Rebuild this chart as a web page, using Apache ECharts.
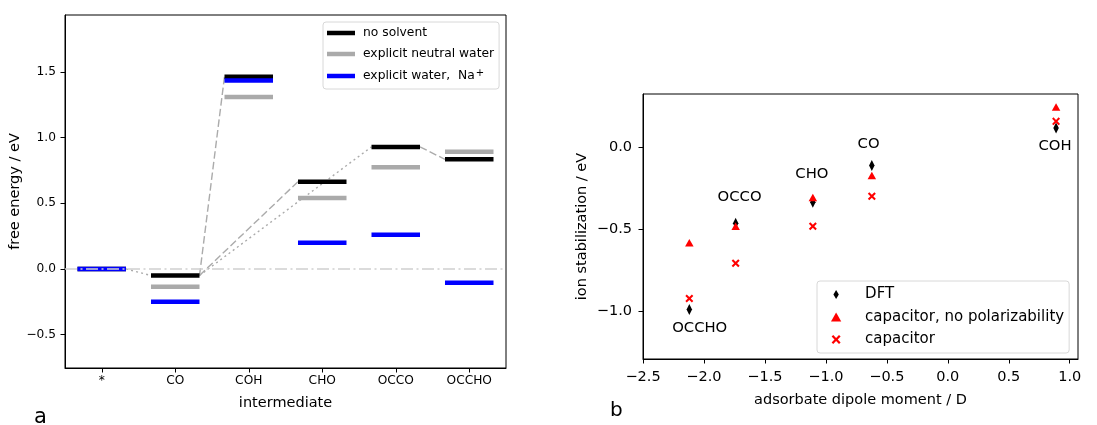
<!DOCTYPE html>
<html>
<head>
<meta charset="utf-8">
<script src="https://cdn.jsdelivr.net/npm/echarts@6/dist/echarts.min.js"></script>
<style>
  html, body { margin: 0; padding: 0; background: #fff; }
  #chart { width: 1097px; height: 425px; }
</style>
</head>
<body>
<div id="chart"></div>
<script>
// panel a: free energy levels per intermediate
const intermediates = ['*', 'CO', 'COH', 'CHO', 'OCCO', 'OCCHO'];
const noSolvent = [0, -0.05, 1.465, 0.665, 0.93, 0.835];
const neutralWater = [0, -0.135, 1.31, 0.54, 0.775, 0.893];
const waterNa = [0, -0.25, 1.435, 0.2, 0.26, -0.105];
// pathways between "no solvent" levels: [from, to, style]
const pathways = [[0, 1, 'dotted'], [1, 2, 'dashed'], [1, 3, 'dashed'], [1, 4, 'dotted'], [4, 5, 'dashed']];
const energyTicks = [-0.5, 0, 0.5, 1.0, 1.5];

// panel b: ion stabilization vs dipole moment
const adsorbates = ['OCCHO', 'OCCO', 'CHO', 'CO', 'COH'];
const dipole = [-2.12, -1.74, -1.107, -0.623, 0.888];
const dft = [-0.992, -0.466, -0.338, -0.114, 0.116];
const capNoPol = [-0.585, -0.484, -0.309, -0.175, 0.244];
const capacitor = [-0.925, -0.71, -0.484, -0.301, 0.156];
const labelX = [-2.035, -1.708, -1.115, -0.65, 0.88];
const labelY = [-1.104, -0.307, -0.169, 0.02, 0.004];
const dipoleTicks = [-2.5, -2.0, -1.5, -1.0, -0.5, 0.0, 0.5, 1.0];
const stabTicks = [-1.0, -0.5, 0.0];

const FONT = 'DejaVu Sans';
const HALF = 0.33; // half width of a level bar (in category units)
const minus = v => v.toFixed(1).replace('-', '\u2212');

const DIAMOND = 'path://M3,0 L6,5 L3,10 L0,5 Z';
const TRIANGLE = 'path://M5,0 L10,8.8 L0,8.8 Z';
const CROSS = 'path://M0,1.8 L1.8,0 L5,3.2 L8.2,0 L10,1.8 L6.8,5 L10,8.2 L8.2,10 L5,6.8 L1.8,10 L0,8.2 L3.2,5 Z';

function levelSeries(name, values, color) {
    return {
        name,
        type: 'custom',
        xAxisIndex: 0,
        yAxisIndex: 0,
        itemStyle: { color },
        data: values.map((v, i) => [i, v]),
        renderItem: (params, api) => {
            const i = api.value(0), v = api.value(1);
            const a = api.coord([i - HALF, v]);
            const b = api.coord([i + HALF, v]);
            return {
                type: 'line',
                shape: { x1: a[0], y1: a[1], x2: b[0], y2: b[1] },
                style: { stroke: color, lineWidth: 4.5 }
            };
        }
    };
}

const axisCommon = {
    axisLine: { show: true, onZero: false, lineStyle: { color: '#000', width: 1 } },
    axisTick: { show: true, length: 4.5, lineStyle: { color: '#000', width: 1 } },
    splitLine: { show: false },
    nameTextStyle: { fontFamily: FONT, color: '#000', fontSize: 14.5 }
};

const chart = echarts.init(document.getElementById('chart'), null, { renderer: 'canvas' });

const option = {
    animation: false,
    backgroundColor: '#fff',
    textStyle: { fontFamily: FONT },
    grid: [
        { left: 65, top: 15, width: 441, height: 353, show: true, borderColor: '#000', borderWidth: 1 },
        { left: 643, top: 94, width: 435, height: 265, show: true, borderColor: '#000', borderWidth: 1 }
    ],
    xAxis: [{
        ...axisCommon,
        gridIndex: 0,
        type: 'value',
        min: -0.5,
        max: 5.5,
        name: 'intermediate',
        nameLocation: 'middle',
        nameGap: 28,
        axisTick: { ...axisCommon.axisTick, customValues: intermediates.map((n, i) => i) },
        axisLabel: {
            customValues: intermediates.map((n, i) => i),
            formatter: v => intermediates[Math.round(v)],
            fontFamily: FONT, fontSize: 12.2, color: '#000', margin: 7
        }
    }, {
        ...axisCommon,
        gridIndex: 1,
        type: 'value',
        min: -2.5,
        max: 1.068,
        name: 'adsorbate dipole moment / D',
        nameLocation: 'middle',
        nameGap: 34,
        axisTick: { ...axisCommon.axisTick, customValues: dipoleTicks },
        axisLabel: {
            customValues: dipoleTicks,
            formatter: minus,
            fontFamily: FONT, fontSize: 14.5, color: '#000', margin: 11
        }
    }],
    yAxis: [{
        ...axisCommon,
        gridIndex: 0,
        type: 'value',
        min: -0.755,
        max: 1.935,
        name: 'free energy / eV',
        nameLocation: 'middle',
        nameGap: 37,
        axisTick: { ...axisCommon.axisTick, customValues: energyTicks },
        axisLabel: {
            customValues: energyTicks,
            formatter: minus,
            fontFamily: FONT, fontSize: 12.2, color: '#000', margin: 9
        }
    }, {
        ...axisCommon,
        gridIndex: 1,
        type: 'value',
        min: -1.294,
        max: 0.323,
        name: 'ion stabilization / eV',
        nameLocation: 'middle',
        nameGap: 53,
        axisTick: { ...axisCommon.axisTick, customValues: stabTicks },
        axisLabel: {
            customValues: stabTicks,
            formatter: minus,
            fontFamily: FONT, fontSize: 14.5, color: '#000', margin: 11
        }
    }],
    legend: [{
        data: ['no solvent', 'explicit neutral water', 'explicit water, Na+'],
        orient: 'vertical',
        left: 323,
        top: 22,
        padding: [4, 5, 6, 4],
        itemGap: 7,
        itemWidth: 28,
        itemHeight: 4.5,
        icon: 'rect',
        selectedMode: false,
        backgroundColor: '#fff',
        borderColor: '#d8d8d8',
        borderWidth: 1,
        borderRadius: 3,
        formatter: n => n === 'explicit water, Na+' ? 'explicit water,  Na{sup|+}' : n,
        textStyle: {
            fontFamily: FONT, fontSize: 12.3, color: '#000', lineHeight: 14, padding: [0, 0, 0, 3],
            rich: { sup: { fontFamily: FONT, fontSize: 10, color: '#000', padding: [0, 0, 6, 1] } }
        }
    }, {
        data: [
            { name: 'DFT', icon: DIAMOND },
            { name: 'capacitor, no polarizability', icon: TRIANGLE },
            { name: 'capacitor', icon: CROSS }
        ],
        orient: 'vertical',
        left: 817,
        top: 281,
        padding: [5, 5, 5, 14],
        itemGap: 5.5,
        itemWidth: 14,
        itemHeight: 9,
        selectedMode: false,
        backgroundColor: '#fff',
        borderColor: '#d8d8d8',
        borderWidth: 1,
        borderRadius: 3,
        textStyle: { fontFamily: FONT, fontSize: 15, color: '#000', lineHeight: 17, padding: [0, 0, 0, 17] }
    }],
    series: [
        // pathway connectors between "no solvent" levels
        {
            type: 'custom',
            xAxisIndex: 0,
            yAxisIndex: 0,
            z: 1,
            data: pathways.map(([a, b, s]) => [a, noSolvent[a], b, noSolvent[b], s === 'dotted' ? 1 : 0]),
            encode: { x: [0, 2], y: [1, 3] },
            renderItem: (params, api) => {
                const p = api.coord([api.value(0) + HALF, api.value(1)]);
                const q = api.coord([api.value(2) - HALF, api.value(3)]);
                const dotted = api.value(4) === 1;
                return {
                    type: 'line',
                    shape: { x1: p[0], y1: p[1], x2: q[0], y2: q[1] },
                    style: { stroke: '#ababab', lineWidth: 1.4, lineDash: dotted ? [2, 3.2] : [7.5, 3.2] }
                };
            }
        },
        levelSeries('no solvent', noSolvent, '#000000'),
        levelSeries('explicit neutral water', neutralWater, '#aaaaaa'),
        levelSeries('explicit water, Na+', waterNa, '#0000ff'),
        // zero reference line
        {
            type: 'line',
            xAxisIndex: 0,
            yAxisIndex: 0,
            data: [],
            z: 5,
            markLine: {
                silent: true,
                symbol: 'none',
                label: { show: false },
                lineStyle: { color: '#cfcfcf', width: 1.6, type: [12, 3.5, 2, 3.5] },
                data: [{ yAxis: 0 }]
            }
        },
        {
            name: 'DFT',
            type: 'scatter',
            xAxisIndex: 1,
            yAxisIndex: 1,
            symbol: DIAMOND,
            symbolSize: [5.5, 11],
            itemStyle: { color: '#000', opacity: 1 },
            data: dipole.map((x, i) => [x, dft[i]])
        },
        {
            name: 'capacitor, no polarizability',
            type: 'scatter',
            xAxisIndex: 1,
            yAxisIndex: 1,
            symbol: TRIANGLE,
            symbolSize: [8.5, 7.5],
            itemStyle: { color: '#ff0000', opacity: 1 },
            data: dipole.map((x, i) => [x, capNoPol[i]])
        },
        {
            name: 'capacitor',
            type: 'scatter',
            xAxisIndex: 1,
            yAxisIndex: 1,
            symbol: CROSS,
            symbolSize: 8,
            itemStyle: { color: '#ff0000', opacity: 1 },
            data: dipole.map((x, i) => [x, capacitor[i]])
        },
        // adsorbate names
        {
            type: 'scatter',
            xAxisIndex: 1,
            yAxisIndex: 1,
            symbolSize: 1,
            itemStyle: { color: '#fff', opacity: 1 },
            silent: true,
            z: 1,
            label: {
                show: true,
                position: 'inside',
                formatter: p => p.name,
                fontFamily: FONT,
                fontSize: 14.8,
                color: '#000'
            },
            data: adsorbates.map((n, i) => ({ name: n, value: [labelX[i], labelY[i]] }))
        }
    ],
    graphic: [
        { type: 'text', left: 34, top: 407, style: { text: 'a', font: '21px "DejaVu Sans"', fill: '#000' } },
        { type: 'text', left: 610, top: 401, style: { text: 'b', font: '20px "DejaVu Sans"', fill: '#000' } }
    ]
};

chart.setOption(option);
</script>
</body>
</html>
